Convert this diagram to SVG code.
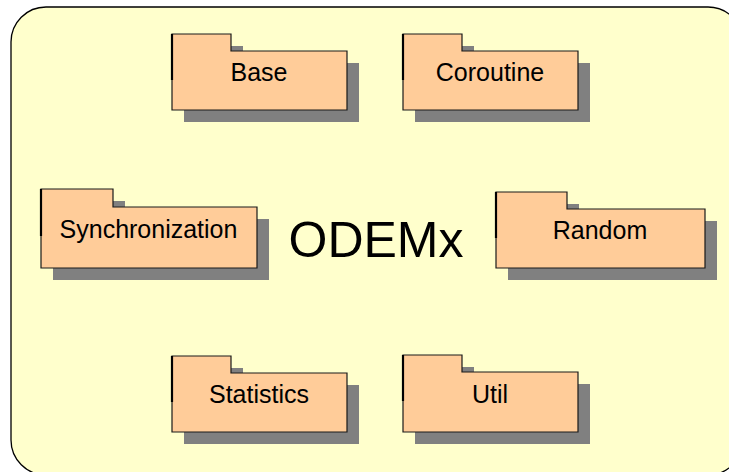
<svg xmlns="http://www.w3.org/2000/svg" width="729" height="472" viewBox="0 0 729 472">
<style>
.bg{fill:#ffffcc;stroke:#000;stroke-width:1.3}
.shadow{fill:#808080;stroke:none}
.pkg{fill:#ffcc99;stroke:#1a1a1a;stroke-width:1.2}
.edge{stroke:#000;stroke-width:2.2}
.lbl{font-family:"Liberation Sans",Arial,sans-serif;font-size:25px;fill:#000;text-anchor:middle}
.title{font-family:"Liberation Sans",Arial,sans-serif;font-size:50px;fill:#000;text-anchor:middle}
</style>
<rect class="bg" x="11" y="7" width="732" height="468" rx="35" ry="35"/>
<text class="title" x="376" y="257">ODEMx</text>
<g id="Base">
<path class="shadow" d="M184,46 h59 v17 H359 V122 H184 Z"/>
<path class="pkg" d="M172,34 h59 v17 H347 V110 H172 Z"/>
<line class="edge" x1="172" y1="34" x2="172" y2="80"/>
<text class="lbl" x="259" y="81">Base</text>
</g>
<g id="Coroutine">
<path class="shadow" d="M415,46 h59 v17 H590 V122 H415 Z"/>
<path class="pkg" d="M403,34 h59 v17 H578 V110 H403 Z"/>
<line class="edge" x1="403" y1="34" x2="403" y2="80"/>
<text class="lbl" x="490" y="81">Coroutine</text>
</g>
<g id="Synchronization">
<path class="shadow" d="M53,201 h72 v18 H269 V280 H53 Z"/>
<path class="pkg" d="M41,189 h72 v18 H257 V268 H41 Z"/>
<line class="edge" x1="41" y1="189" x2="41" y2="236"/>
<text class="lbl" x="148.5" y="238">Synchronization</text>
</g>
<g id="Random">
<path class="shadow" d="M508,204 h71 v17 H717 V280 H508 Z"/>
<path class="pkg" d="M496,192 h71 v17 H705 V268 H496 Z"/>
<line class="edge" x1="496" y1="192" x2="496" y2="238"/>
<text class="lbl" x="600" y="239">Random</text>
</g>
<g id="Statistics">
<path class="shadow" d="M184,368 h59 v17 H359 V444 H184 Z"/>
<path class="pkg" d="M172,356 h59 v17 H347 V432 H172 Z"/>
<line class="edge" x1="172" y1="356" x2="172" y2="402"/>
<text class="lbl" x="259" y="403">Statistics</text>
</g>
<g id="Util">
<path class="shadow" d="M415,367 h59 v17 H590 V444 H415 Z"/>
<path class="pkg" d="M403,355 h59 v17 H578 V432 H403 Z"/>
<line class="edge" x1="403" y1="355" x2="403" y2="401"/>
<text class="lbl" x="490" y="403">Util</text>
</g>
<g id="connectors"/>
</svg>
